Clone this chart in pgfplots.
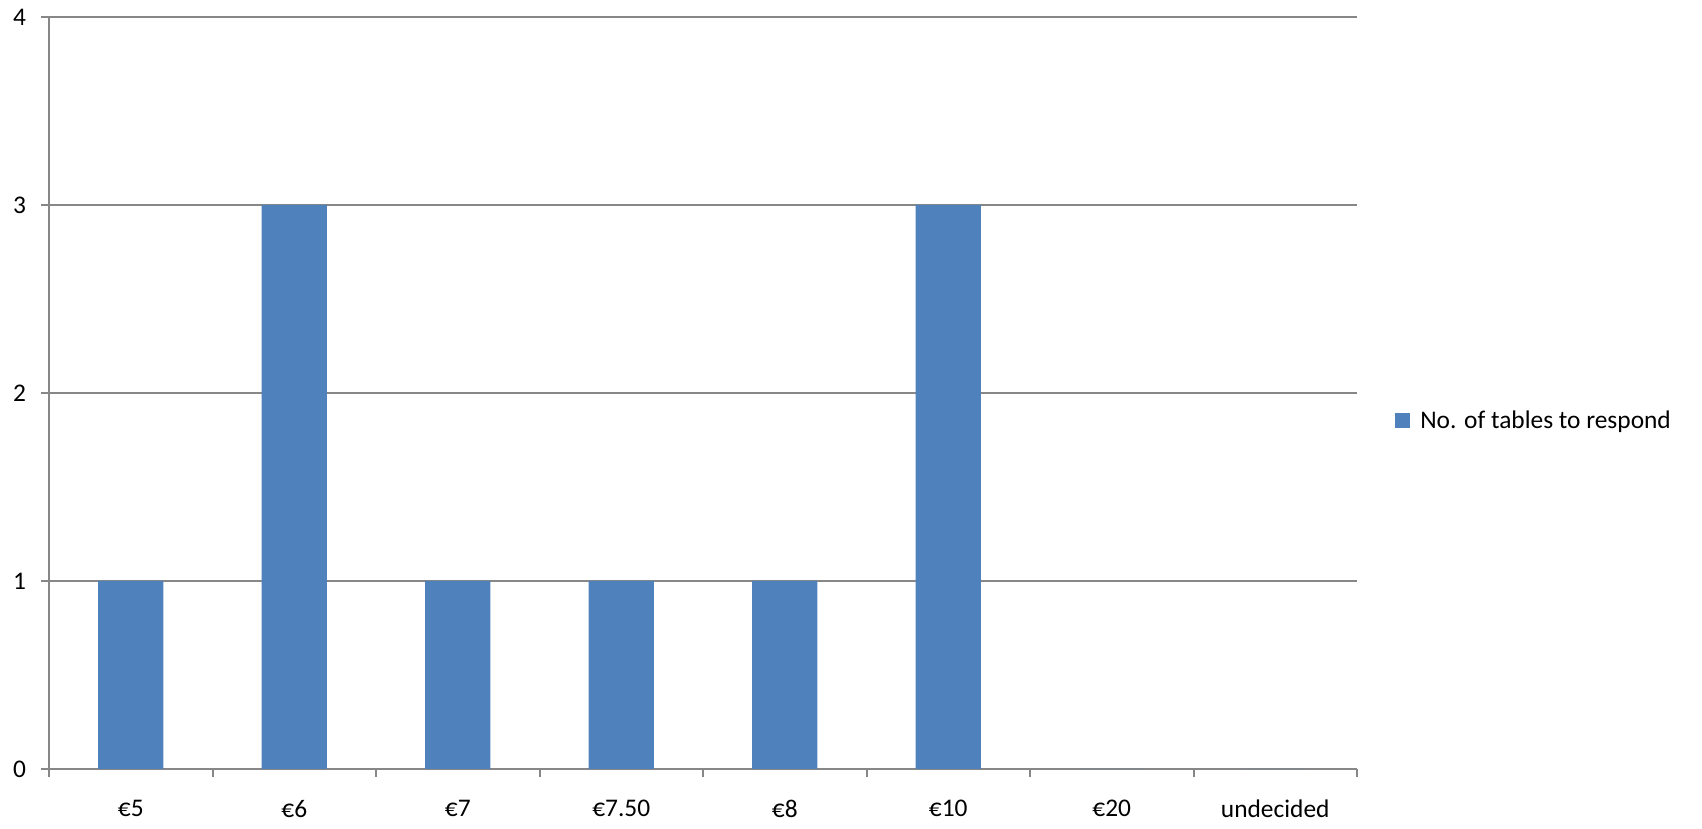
\documentclass[border=0pt]{standalone}
\usepackage{fontspec}
\setmainfont{Carlito}
\usepackage{pgfplots}
\pgfplotsset{compat=1.18}
\definecolor{barblue}{HTML}{4F81BD}
\definecolor{axgray}{HTML}{878787}
\begin{document}
\begin{tikzpicture}
\useasboundingbox (-24.5pt,-30pt) rectangle (826.5pt,384.5pt);
\begin{axis}[
  at={(0pt,0pt)}, anchor=south west,
  scale only axis,
  width=654pt, height=376pt,
  xmin=-0.5, xmax=7.5, ymin=0, ymax=4,
  axis x line*=bottom, axis y line*=left,
  axis line style={axgray, line width=1pt, -},
  xtick={0,...,7},
  xticklabels={€5,€6,€7,€7.50,€8,€10,€20,undecided},
  minor xtick={-0.5,0.5,...,7.5},
  ytick={0,1,2,3,4},
  ymajorgrids,
  grid style={axgray, line width=1pt},
  major x tick style={draw=none},
  minor x tick style={axgray, line width=1pt},
  major y tick style={axgray, line width=1pt},
  tick align=outside,
  major tick length=4pt, minor tick length=4pt,
  xticklabel style={yshift=-8pt},
  yticklabel style={xshift=-4pt},
  /pgf/number format/assume math mode=true,
  ticklabel style={font=\fontsize{12.7}{15}\selectfont},
  legend style={draw=none, at={(1.029,0.463)}, anchor=west,
    font=\fontsize{12.7}{15}\selectfont, inner sep=0pt},
  legend image code/.code={
    \fill[#1] (0pt,-3.75pt) rectangle (7.5pt,3.75pt);
    \path (10.5pt,0pt);},
]
\addplot[ybar, bar width=0.4, fill=barblue, draw=none]
  coordinates {(0,1) (1,3) (2,1) (3,1) (4,1) (5,3) (6,0) (7,0)};
\addlegendentry{No. of tables to respond}
\end{axis}
\end{tikzpicture}
\end{document}
